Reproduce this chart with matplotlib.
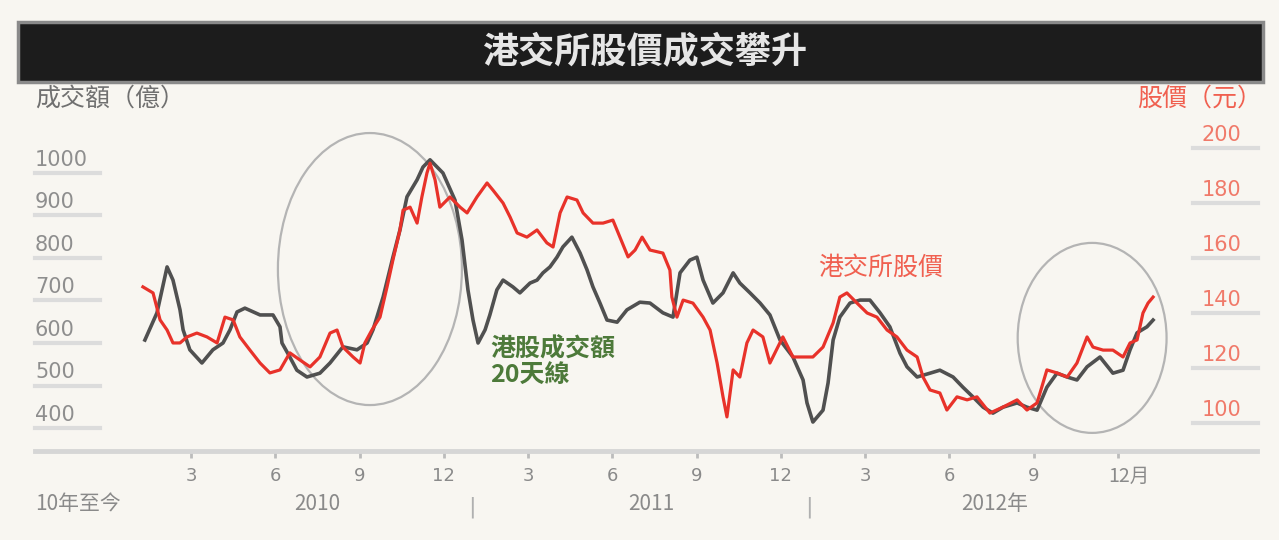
import matplotlib
matplotlib.use('Agg')
import matplotlib.pyplot as plt
from matplotlib.patches import Ellipse, Rectangle
from matplotlib.transforms import blended_transform_factory

plt.rcParams['font.family'] = ['Noto Sans CJK TC', 'DejaVu Sans']

# x positions are months counted from the start of Jan 2010
turnover_month = [0.36, 0.79, 1.15, 1.36, 1.61, 1.72, 1.96, 2.39, 2.78, 3.14, 3.39, 3.64, 3.92,
                  4.46, 4.92, 5.17, 5.24, 5.52, 5.77, 6.13, 6.59, 6.95, 7.41, 7.91, 8.27, 8.48,
                  8.84, 9.19, 9.44, 9.69, 10.05, 10.26, 10.51, 10.97, 11.40, 11.65, 11.86, 12.04,
                  12.22, 12.47, 12.64, 12.89, 13.11, 13.46, 13.71, 14.07, 14.32, 14.53, 14.78,
                  15.03, 15.24, 15.56, 15.85, 16.10, 16.31, 16.56, 16.81, 17.17, 17.52, 17.98,
                  18.34, 18.80, 19.16, 19.41, 19.76, 20.01, 20.23, 20.58, 20.94, 21.30, 21.54,
                  21.90, 22.26, 22.61, 22.97, 23.43, 23.79, 23.93, 24.14, 24.50, 24.68, 24.86,
                  25.10, 25.46, 25.82, 26.17, 26.53, 26.88, 27.24, 27.49, 27.85, 28.31, 28.66,
                  29.13, 29.48, 29.84, 30.20, 30.55, 30.91, 31.41, 31.76, 32.12, 32.47, 32.83,
                  33.19, 33.54, 33.90, 34.36, 34.82, 35.18, 35.43, 35.68, 36.03, 36.25]
# 港股成交額 20天線 (億)
turnover = [607, 671, 779, 748, 678, 631, 584, 553, 584, 600, 631, 673, 682,
            666, 666, 638, 600, 567, 536, 520, 529, 553, 591, 584, 600, 631,
            708, 802, 866, 944, 984, 1014, 1031, 1000, 936, 842, 725, 654,
            600, 631, 666, 725, 748, 732, 718, 741, 748, 765, 779,
            802, 826, 849, 812, 772, 732, 694, 654, 649, 678, 696,
            694, 671, 661, 765, 795, 802, 748, 694, 718, 765, 741,
            718, 694, 666, 607, 567, 513, 459, 414, 442, 506, 607,
            661, 694, 701, 701, 671, 638, 576, 544, 520, 529, 536,
            520, 496, 473, 449, 435, 449, 459, 449, 442, 496, 529,
            520, 513, 544, 567, 529, 536, 584, 624, 638, 654]

price_month = [0.29, 0.65, 0.90, 1.15, 1.36, 1.61, 1.86, 2.21, 2.57, 2.93, 3.21, 3.50, 3.74,
               4.10, 4.46, 4.81, 5.17, 5.52, 5.88, 6.24, 6.59, 6.95, 7.20, 7.41, 7.77, 8.02,
               8.19, 8.44, 8.73, 8.98, 9.19, 9.44, 9.55, 9.80, 10.05, 10.22, 10.40, 10.51,
               10.69, 10.86, 11.22, 11.58, 11.83, 12.18, 12.54, 12.75, 13.11, 13.36, 13.61,
               13.96, 14.32, 14.67, 14.89, 15.14, 15.39, 15.74, 15.96, 16.31, 16.67, 17.02,
               17.27, 17.56, 17.81, 18.06, 18.34, 18.80, 19.05, 19.12, 19.30, 19.52, 19.87,
               20.23, 20.48, 20.73, 20.94, 21.08, 21.30, 21.54, 21.79, 22.01, 22.36, 22.61,
               23.07, 23.43, 23.79, 24.14, 24.50, 24.86, 25.10, 25.35, 25.71, 26.07, 26.42,
               26.78, 27.13, 27.49, 27.85, 28.06, 28.31, 28.66, 28.91, 29.27, 29.63, 29.98,
               30.44, 30.91, 31.41, 31.76, 32.12, 32.47, 32.83, 33.19, 33.54, 33.90, 34.11,
               34.47, 34.82, 35.18, 35.43, 35.68, 35.89, 36.07, 36.25]
# 港交所股價 (元)
price = [149.5, 147.3, 137.5, 133.8, 129.1, 129.1, 131.3, 132.7, 131.3, 129.1, 138.5, 137.5, 131.3,
         126.5, 121.8, 118.2, 119.3, 125.5, 122.9, 120.4, 124.0, 132.7, 133.8, 127.6, 124.0, 121.8,
         129.1, 133.8, 138.5, 149.5, 159.3, 170.2, 177.4, 178.5, 172.7, 182.2, 190.9, 194.5,
         188.4, 178.5, 182.2, 178.5, 176.4, 182.2, 187.3, 184.7, 180.0, 174.9, 169.1,
         167.6, 170.2, 165.5, 164.0, 176.4, 182.2, 181.1, 176.4, 172.7, 172.7, 173.8,
         167.6, 160.4, 162.9, 167.6, 162.9, 161.8, 155.6, 145.8, 138.5, 144.7, 143.6,
         138.5, 133.8, 121.8, 109.5, 102.2, 119.3, 116.7, 129.1, 133.8, 131.3, 121.8,
         131.3, 124.0, 124.0, 124.0, 127.6, 136.4, 145.8, 147.3, 143.6, 140.0, 138.5,
         133.8, 131.3, 126.5, 124.0, 116.7, 112.0, 110.9, 104.7, 109.5, 108.4, 109.5,
         103.6, 105.8, 108.4, 104.7, 107.3, 119.3, 118.2, 116.7, 121.8, 131.3, 127.6,
         126.5, 126.5, 124.0, 129.1, 130.2, 140.0, 143.6, 145.8]

tick_months = [2, 5, 8, 11, 14, 17, 20, 23, 26, 29, 32, 35]
tick_labels = ['3', '6', '9', '12', '3', '6', '9', '12', '3', '6', '9', '12月']
year_labels = ['2010', '2011', '2012年']
year_months = [6.5, 18.4, 30.6]
year_breaks = [12, 24]
left_ticks = [400, 500, 600, 700, 800, 900, 1000]
right_ticks = [100, 120, 140, 160, 180, 200]

bg = '#f8f6f1'
red = '#e8322a'
dark = '#505050'

fig = plt.figure(figsize=(12.79, 5.4), dpi=100, facecolor=bg)

# title bar
fig.patches.append(Rectangle((18 / 1279, 1 - 82 / 540), 1245 / 1279, 60 / 540,
                             transform=fig.transFigure, facecolor='#1c1c1c',
                             edgecolor='#8a8a8a', linewidth=2.5, zorder=0))
fig.text(0.505, 1 - 52 / 540, '港交所股價成交攀升', color='#e6e6e6', fontsize=26,
         fontweight='bold', ha='center', va='center')

ax = fig.add_axes([30 / 1279, 1 - 451 / 540, 1245 / 1279, 356 / 540])
ax.set_facecolor('none')
ax2 = ax.twinx()

ax.set_xlim(-3.73, 40.59)
ax.set_ylim(345.9, 1183.5)
ax2.set_ylim(89.8, 219.3)

ax.plot(turnover_month, turnover, color=dark, lw=2.6, solid_joinstyle='round', zorder=3)
ax2.plot(price_month, price, color=red, lw=2.3, solid_joinstyle='round', zorder=4)

# circled areas
ax.add_patch(Ellipse((8.37, 774), 6.55, 640, fill=False, edgecolor='#b4b4b4', lw=1.6, zorder=2))
ax.add_patch(Ellipse((34.08, 612), 5.3, 447, fill=False, edgecolor='#b4b4b4', lw=1.6, zorder=2))

for a in (ax, ax2):
    for s in a.spines.values():
        s.set_visible(False)
    a.set_yticks([])
ax.spines['bottom'].set_visible(True)
ax.spines['bottom'].set_color('#d6d6d6')
ax.spines['bottom'].set_linewidth(3.5)
ax.spines['bottom'].set_bounds(-3.55, 39.95)
ax.set_xticks(tick_months)
ax.set_xticklabels([])
ax.tick_params(axis='x', direction='out', length=5, width=2, color='#bcbcbc')

# y tick labels sitting on short stubs
tl = blended_transform_factory(ax.transAxes, ax.transData)
for v in left_ticks:
    ax.plot([0.004, 0.056], [v, v], transform=tl, color='#dcdcdc', lw=3, clip_on=False)
    ax.annotate(str(v), xy=(0.004, v), xycoords=tl, xytext=(0, 9.5),
                textcoords='offset points', ha='left', va='center', fontsize=15,
                color='#8e8e8e', family='DejaVu Sans')
tr = blended_transform_factory(ax2.transAxes, ax2.transData)
for v in right_ticks:
    ax2.plot([0.934, 0.986], [v, v], transform=tr, color='#dcdcdc', lw=3, clip_on=False)
    ax2.annotate(str(v), xy=(0.957, v), xycoords=tr, xytext=(0, 9.5),
                 textcoords='offset points', ha='center', va='center', fontsize=15,
                 color='#f07a6a', family='DejaVu Sans')

fig.text(35 / 1279, 1 - 99 / 540, '成交額（億）', fontsize=18, color='#707070', va='center')
fig.text(1137 / 1279, 1 - 99 / 540, '股價（元）', fontsize=18, color='#f06050', va='center')

# x labels
tx = blended_transform_factory(ax.transData, fig.transFigure)
for m, lab in zip(tick_months, tick_labels):
    if lab.endswith('月'):
        ax.annotate(lab, xy=(m, 1 - 476 / 540), xycoords=tx, xytext=(-7, 0),
                    textcoords='offset points', ha='left', va='center', fontsize=14,
                    color='#8a8a8a')
    else:
        ax.text(m, 1 - 476 / 540, lab, transform=tx, ha='center', va='center',
                fontsize=13, color='#8a8a8a', family='DejaVu Sans')
for m, lab in zip(year_months, year_labels):
    ax.text(m, 1 - 504 / 540, lab, transform=tx, ha='center', va='center',
            fontsize=15, color='#8a8a8a')
for m in year_breaks:
    ax.text(m, 1 - 507 / 540, '|', transform=tx, ha='center', va='center',
            fontsize=16, color='#b0b0b0', family='DejaVu Sans')
fig.text(35 / 1279, 1 - 504 / 540, '10年至今', fontsize=15, color='#8a8a8a', va='center')

# series labels
ax.text(12.64, 614, '港股成交額\n20天線', color='#4d7a3a', fontsize=18, fontweight='bold',
        ha='left', va='top', linespacing=1.1, zorder=5)
ax.text(24.32, 776, '港交所股價', color='#f06050', fontsize=18, ha='left', va='center', zorder=5)

fig.savefig('out.png', dpi=100, facecolor=fig.get_facecolor())
